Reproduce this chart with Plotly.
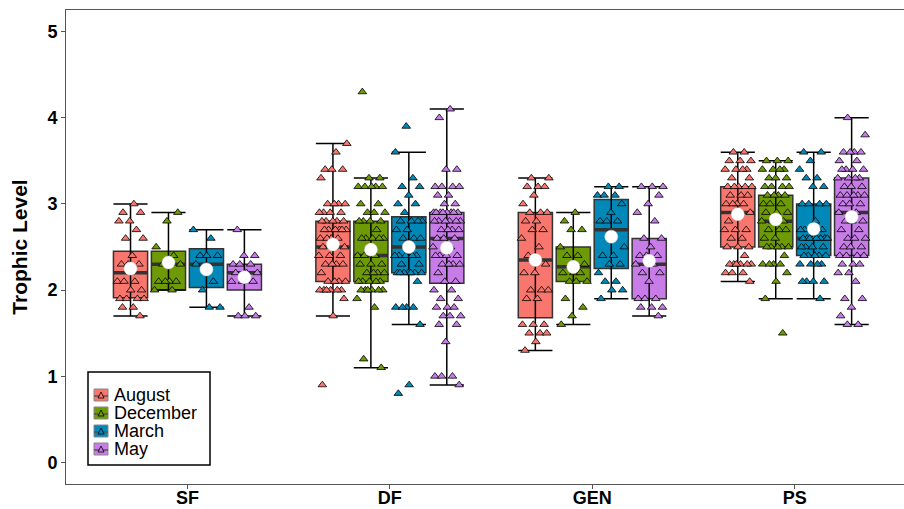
import plotly.graph_objects as go

groups = ["SF", "DF", "GEN", "PS"]
months = ["August", "December", "March", "May"]
month_colors = ["#F8766D", "#6E9A05", "#0089B8", "#C77CE8"]

# box statistics (per month, over groups SF, DF, GEN, PS)
box_lo = {"August": [1.7, 1.7, 1.3, 2.1], "December": [2.0, 1.1, 1.6, 1.9],
          "March": [1.8, 1.6, 1.9, 1.9], "May": [1.7, 0.9, 1.7, 1.6]}
box_q1 = {"August": [1.91, 2.10, 1.68, 2.50], "December": [2.00, 2.10, 2.10, 2.50],
          "March": [2.03, 2.20, 2.25, 2.40], "May": [2.00, 2.08, 1.90, 2.40]}
box_med = {"August": [2.20, 2.50, 2.35, 2.90], "December": [2.30, 2.40, 2.27, 2.80],
           "March": [2.30, 2.50, 2.70, 2.60], "May": [2.20, 2.60, 2.30, 2.90]}
box_q3 = {"August": [2.45, 2.80, 2.90, 3.20], "December": [2.45, 2.80, 2.50, 3.10],
          "March": [2.48, 2.85, 3.05, 3.00], "May": [2.30, 2.90, 2.60, 3.30]}
box_hi = {"August": [3.0, 3.7, 3.3, 3.6], "December": [2.9, 3.3, 2.9, 3.5],
          "March": [2.7, 3.6, 3.2, 3.6], "May": [2.7, 4.1, 3.2, 4.0]}
box_mean = {"August": [2.25, 2.53, 2.35, 2.88], "December": [2.32, 2.47, 2.27, 2.82],
            "March": [2.24, 2.50, 2.62, 2.71], "May": [2.15, 2.49, 2.34, 2.85]}

# individual observations (trophic level) per group and month
pts_SF = {
    "August": [3.0, 2.9, 2.9, 2.8, 2.8, 2.7, 2.6, 2.6, 2.4, 2.3, 2.3, 2.3, 2.1, 2.1, 2.1,
               2.0, 2.0, 1.9, 1.9, 1.9, 1.9, 1.8, 1.8, 1.7],
    "December": [2.9, 2.8, 2.5, 2.4, 2.3, 2.3, 2.1, 2.1, 2.1, 2.1, 2.0, 2.0],
    "March": [2.7, 2.6, 2.4, 2.4, 2.4, 2.3, 2.1, 2.0, 1.8, 1.8],
    "May": [2.7, 2.4, 2.4, 2.3, 2.3, 2.3, 2.2, 2.2, 2.2, 2.1, 2.1, 2.1, 1.8, 1.7, 1.7, 1.7],
}
pts_DF = {
    "August": [3.7, 3.6, 3.4, 3.4, 3.4, 3.3, 3.0, 3.0, 3.0, 3.0, 2.9, 2.9, 2.9, 2.9,
               2.8, 2.8, 2.8, 2.8, 2.8, 2.7, 2.7, 2.7, 2.7, 2.7, 2.7, 2.6, 2.6, 2.6, 2.6,
               2.5, 2.5, 2.5, 2.4, 2.4, 2.4, 2.3, 2.3, 2.3, 2.3, 2.2, 2.1, 2.1, 2.1, 2.1,
               2.0, 2.0, 2.0, 2.0, 2.0, 2.0, 1.9, 1.7, 0.9],
    "December": [4.3, 3.3, 3.3, 3.2, 3.2, 3.2, 3.2, 3.2, 3.0, 3.0, 2.9, 2.9, 2.9,
                 2.8, 2.8, 2.8, 2.8, 2.7, 2.6, 2.6, 2.6, 2.6, 2.6, 2.5, 2.4, 2.4, 2.4,
                 2.3, 2.3, 2.3, 2.2, 2.2, 2.2, 2.2, 2.1, 2.1, 2.1, 2.1, 2.1,
                 2.0, 2.0, 2.0, 2.0, 2.0, 2.0, 1.9, 1.8, 1.2, 1.1],
    "March": [3.9, 3.6, 3.3, 3.2, 3.2, 3.1, 3.0, 3.0, 2.9, 2.8, 2.8, 2.8, 2.8, 2.7, 2.7,
              2.6, 2.6, 2.6, 2.5, 2.4, 2.4, 2.4, 2.4, 2.4, 2.3, 2.3, 2.2, 2.2, 2.2, 2.2,
              2.2, 2.2, 2.2, 2.1, 1.8, 1.8, 1.8, 1.8, 1.6, 0.9, 0.8],
    "May": [4.1, 4.0, 3.4, 3.4, 3.2, 3.2, 3.2, 3.2, 3.1, 3.1, 3.0, 3.0, 2.9, 2.9, 2.9, 2.9,
            2.9, 2.9, 2.9, 2.9, 2.8, 2.8, 2.8, 2.8, 2.8, 2.8, 2.7, 2.7, 2.7, 2.7, 2.6, 2.6,
            2.6, 2.5, 2.5, 2.4, 2.4, 2.4, 2.4, 2.3, 2.3, 2.3, 2.3, 2.2, 2.1, 2.1, 2.0, 2.0,
            1.9, 1.9, 1.8, 1.8, 1.8, 1.7, 1.7, 1.7, 1.6, 1.6, 1.4, 1.0, 1.0, 1.0, 0.9],
}
pts_GEN = {
    "August": [3.3, 3.3, 3.2, 3.2, 3.2, 3.1, 3.0, 2.9, 2.9, 2.9, 2.8, 2.8, 2.7, 2.7, 2.6,
               2.5, 2.4, 2.3, 2.2, 2.2, 2.0, 2.0, 2.0, 1.9, 1.9, 1.6, 1.6, 1.6, 1.5, 1.5,
               1.5, 1.4, 1.3],
    "December": [2.9, 2.8, 2.7, 2.7, 2.5, 2.4, 2.4, 2.3, 2.2, 2.2, 2.2, 2.1, 2.1, 2.1,
                 1.9, 1.8, 1.7, 1.6],
    "March": [3.2, 3.2, 3.1, 3.1, 3.1, 3.0, 2.9, 2.8, 2.8, 2.8, 2.5, 2.4, 2.4, 2.3, 2.3,
              2.2, 2.1, 2.1, 2.0, 2.0, 1.9],
    "May": [3.2, 3.2, 3.2, 3.1, 3.0, 2.9, 2.8, 2.6, 2.6, 2.5, 2.4, 2.4, 2.4, 2.3, 2.3,
            2.2, 2.2, 2.1, 1.9, 1.9, 1.9, 1.8, 1.8, 1.8, 1.7],
}
pts_PS = {
    "August": [3.6, 3.6, 3.5, 3.5, 3.5, 3.4, 3.4, 3.4, 3.4, 3.3, 3.3, 3.2, 3.2, 3.2, 3.2,
               3.2, 3.1, 3.1, 3.1, 3.0, 3.0, 3.0, 3.0, 2.9, 2.9, 2.8, 2.7, 2.7, 2.7, 2.6,
               2.6, 2.5, 2.5, 2.5, 2.4, 2.3, 2.3, 2.3, 2.3, 2.3, 2.3, 2.2, 2.2, 2.2, 2.1],
    "December": [3.5, 3.5, 3.5, 3.4, 3.4, 3.4, 3.4, 3.3, 3.3, 3.3, 3.2, 3.2, 3.2, 3.2,
                 3.1, 3.1, 3.1, 3.1, 3.0, 3.0, 3.0, 2.9, 2.9, 2.9, 2.8, 2.8, 2.8, 2.7,
                 2.7, 2.7, 2.6, 2.6, 2.5, 2.5, 2.5, 2.5, 2.5, 2.4, 2.3, 2.3, 2.3, 2.3,
                 2.2, 2.1, 1.9, 1.5],
    "March": [3.6, 3.6, 3.5, 3.4, 3.3, 3.3, 3.2, 3.2, 3.0, 3.0, 3.0, 3.0, 2.8, 2.7, 2.7,
              2.7, 2.7, 2.7, 2.6, 2.6, 2.6, 2.6, 2.6, 2.6, 2.6, 2.6, 2.5, 2.5, 2.5, 2.5,
              2.4, 2.4, 2.4, 2.4, 2.4, 2.3, 2.3, 2.3, 2.3, 2.1, 2.1, 2.1, 2.1, 1.9],
    "May": [4.0, 3.8, 3.6, 3.6, 3.6, 3.6, 3.5, 3.5, 3.4, 3.4, 3.4, 3.4, 3.3, 3.3, 3.3,
            3.3, 3.2, 3.2, 3.2, 3.1, 3.1, 3.1, 3.1, 3.1, 3.0, 3.0, 3.0, 2.9, 2.9, 2.8,
            2.8, 2.8, 2.7, 2.7, 2.6, 2.6, 2.6, 2.5, 2.5, 2.5, 2.4, 2.4, 2.4, 2.4, 2.3,
            2.3, 2.3, 2.2, 2.2, 2.1, 1.9, 1.9, 1.8, 1.7, 1.6, 1.6],
}
points = {"SF": pts_SF, "DF": pts_DF, "GEN": pts_GEN, "PS": pts_PS}

# ---- layout constants (styling / positions, not data) ----
W, H = 904, 509
ML, MR, MT, MB = 66, 0, 10, 25
DODGE = 0.75
SLOT = DODGE / len(months)
BOXW = SLOT * 0.9
JIT = 0.07
CAPW = BOXW / 2
FONT = "Liberation Sans, Arial, sans-serif"

fig = go.Figure()
gx = list(range(1, len(groups) + 1))


def pos(gi, mi):
    return gx[gi] + (mi - (len(months) - 1) / 2) * SLOT


# boxes
for mi, m in enumerate(months):
    xs = [pos(gi, mi) for gi in range(len(groups))]
    fig.add_trace(go.Box(
        x=xs, q1=box_q1[m], median=box_med[m], q3=box_q3[m],
        lowerfence=box_q1[m], upperfence=box_q3[m],
        width=BOXW, fillcolor=month_colors[mi],
        line=dict(color="#333333", width=1.5), whiskerwidth=0,
        boxpoints=False, name=m, showlegend=False, hoverinfo="skip"))

# whiskers with caps (errorbar style), medians
wx, wy, mx, my = [], [], [], []
for mi, m in enumerate(months):
    for gi in range(len(groups)):
        c = pos(gi, mi)
        lo, hi = box_lo[m][gi], box_hi[m][gi]
        wx += [c, c, None, c - CAPW, c + CAPW, None, c - CAPW, c + CAPW, None]
        wy += [lo, hi, None, lo, lo, None, hi, hi, None]
        mx += [c - BOXW / 2, c + BOXW / 2, None]
        my += [box_med[m][gi], box_med[m][gi], None]
fig.add_trace(go.Scatter(x=wx, y=wy, mode="lines", line=dict(color="black", width=1.5),
                         showlegend=False, hoverinfo="skip"))
fig.add_trace(go.Scatter(x=mx, y=my, mode="lines", line=dict(color="#333333", width=3.5),
                         showlegend=False, hoverinfo="skip"))

# jittered points
for mi, m in enumerate(months):
    px, py = [], []
    for gi, g in enumerate(groups):
        vals = points[g][m]
        c = pos(gi, mi)
        for k, v in enumerate(vals):
            off = (((k + 1) * 0.6180339887 + gi * 0.37 + mi * 0.21) % 1 - 0.5) * 2 * JIT
            px.append(c + off)
            py.append(v)
    fig.add_trace(go.Scatter(
        x=px, y=py, mode="markers",
        marker=dict(symbol="triangle-up", size=7.5, color=month_colors[mi],
                    line=dict(color="black", width=0.8)),
        showlegend=False, hoverinfo="skip"))

# means
for mi, m in enumerate(months):
    xs = [pos(gi, mi) for gi in range(len(groups))]
    fig.add_trace(go.Scatter(
        x=xs, y=box_mean[m], mode="markers",
        marker=dict(symbol="circle", size=13, color="white",
                    line=dict(color="#dddddd", width=0.5)),
        showlegend=False, hoverinfo="skip"))


# ---- legend drawn in paper coordinates (pixel helpers) ----
def PX(p):
    return (p - ML) / (W - ML - MR)


def PY(p):
    return (H - MB - p) / (H - MT - MB)


shapes = [dict(type="rect", xref="paper", yref="paper", layer="above",
               x0=PX(88), x1=PX(210), y0=PY(465), y1=PY(372),
               line=dict(color="black", width=1.5), fillcolor="white")]
annotations = []
row_y = [395, 413, 431, 449]
for mi, m in enumerate(months):
    cy = row_y[mi]
    shapes.append(dict(type="rect", xref="paper", yref="paper", layer="above",
                       x0=PX(94), x1=PX(108), y0=PY(cy + 6), y1=PY(cy - 6),
                       line=dict(color="#888888", width=1), fillcolor=month_colors[mi]))
    shapes.append(dict(type="line", xref="paper", yref="paper", layer="above",
                       x0=PX(94), x1=PX(108), y0=PY(cy + 1), y1=PY(cy + 1),
                       line=dict(color="#555555", width=1.5)))
    tri = "M {:.5f} {:.5f} L {:.5f} {:.5f} L {:.5f} {:.5f} Z".format(
        PX(98), PY(cy + 3), PX(104), PY(cy + 3), PX(101), PY(cy - 3))
    shapes.append(dict(type="path", xref="paper", yref="paper", layer="above",
                       path=tri, line=dict(color="black", width=0.8),
                       fillcolor=month_colors[mi]))
    annotations.append(dict(xref="paper", yref="paper", x=PX(112), y=PY(cy),
                            xanchor="left", yanchor="middle", text=m, showarrow=False,
                            font=dict(size=18, family=FONT, color="black")))

fig.update_layout(
    width=W, height=H,
    margin=dict(l=ML, r=MR, t=MT, b=MB, autoexpand=False),
    paper_bgcolor="white", plot_bgcolor="white",
    boxmode="overlay", showlegend=False,
    font=dict(family=FONT, color="black"),
    shapes=shapes, annotations=annotations,
    xaxis=dict(range=[0.4, 4.54], tickmode="array", tickvals=gx, ticktext=groups,
               showgrid=False, zeroline=False, showline=True, linecolor="#555555",
               linewidth=1, mirror=True, ticks="outside", ticklen=4, tickcolor="#555555",
               automargin=False, ticklabelstandoff=-7,
               tickfont=dict(size=18, family=FONT, color="black", weight="bold")),
    yaxis=dict(range=[-0.25, 5.25], tickmode="array", tickvals=[0, 1, 2, 3, 4, 5],
               showgrid=False, zeroline=False, showline=True, linecolor="#555555",
               linewidth=1, ticks="outside", ticklen=4, tickcolor="#555555",
               automargin=False,
               tickfont=dict(size=18, family=FONT, color="black", weight="bold"),
               title=dict(text="Trophic Level", standoff=14,
                          font=dict(size=21, family=FONT, color="black", weight="bold"))),
)

fig.write_html("out.html", config={"displayModeBar": False},
               post_script="document.body.style.margin='0';")
